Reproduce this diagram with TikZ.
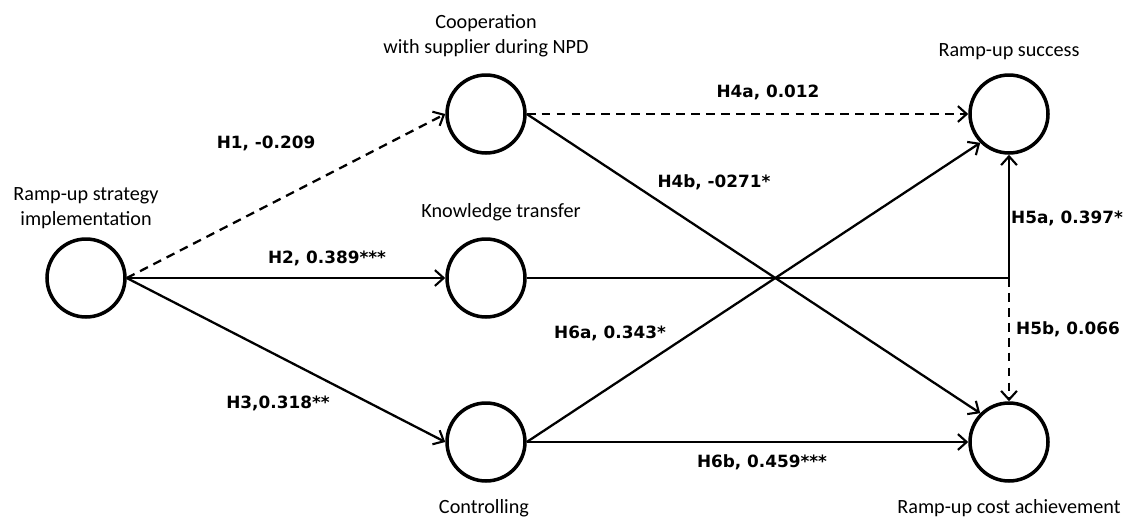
\documentclass[tikz,border=0pt]{standalone}
\usepackage{fontspec}
\setmainfont{Carlito}
\newfontfamily\hypfont{DejaVu Sans}
\usetikzlibrary{arrows.meta}
\tikzstyle{pixelGrid} = [x = 0.02cm, y = -0.02cm]
\tikzstyle{construct} = [circle, draw, line width=2pt, minimum size=1.56cm, inner sep=0pt]
\tikzstyle{constructName} = [font=\fontsize{11.5}{14}\selectfont, align=center]
\tikzstyle{hypText} = [font=\hypfont\bfseries\fontsize{9.6}{11}\selectfont]
\tikzstyle{pathLine} = [line width=1.3pt, -{Straight Barb[length=5pt, width=9pt, line width=1.2pt]}]
\tikzstyle{weakPath} = [pathLine, dash pattern=on 5pt off 3.5pt]
\begin{document}
\begin{tikzpicture}[pixelGrid]
    \useasboundingbox (0,0) rectangle (1139,518);
    % constructs
    \node [construct] (strategy) at (86,278) {};
    \node [construct] (coop) at (486,114) {};
    \node [construct] (knowledge) at (486,278) {};
    \node [construct] (controlling) at (486,442) {};
    \node [construct] (success) at (1009,114) {};
    \node [construct] (cost) at (1009,442) {};
    \node [constructName] (strategyName) at (86,208) {Ramp-up strategy\\implementation};
    \node [constructName] (coopName) at (486,36) {Cooperation\\with supplier during NPD};
    \node [constructName] (knowledgeName) at (501,212) {Knowledge transfer};
    \node [constructName] (controllingName) at (484,508) {Controlling};
    \node [constructName] (successName) at (1009,52) {Ramp-up success};
    \node [constructName] (costName) at (1009,508) {Ramp-up cost achievement};
    \coordinate (junction) at (success |- knowledge);
    % paths
    \draw [weakPath] (strategy.east) -- (coop.west);
    \draw [pathLine] (strategy.east) -- (knowledge.west);
    \draw [pathLine] (strategy.east) -- (controlling.west);
    \draw [weakPath] (coop.east) -- (success.west);
    \draw [pathLine] (coop.east) -- (cost.135);
    \draw [line width=1.3pt] (knowledge.east) -- (junction);
    \draw [pathLine] (junction) -- (success.south);
    \draw [weakPath] (junction) -- (cost.north);
    \draw [pathLine] (controlling.east) -- (success.225);
    \draw [pathLine] (controlling.east) -- (cost.west);
    % hypotheses
    \node [hypText] (h1) at (266,143) {H1, -0.209};
    \node [hypText] (h2) at (327,258) {H2, 0.389***};
    \node [hypText] (h3) at (278,403) {H3,0.318**};
    \node [hypText] (h4a) at (768,92) {H4a, 0.012};
    \node [hypText] (h4b) at (714,182) {H4b, -0271*};
    \node [hypText] (h5a) at (1067,218) {H5a, 0.397*};
    \node [hypText] (h5b) at (1068,329) {H5b, 0.066};
    \node [hypText] (h6a) at (610,333) {H6a, 0.343*};
    \node [hypText] (h6b) at (762,462) {H6b, 0.459***};
\end{tikzpicture}
\end{document}
